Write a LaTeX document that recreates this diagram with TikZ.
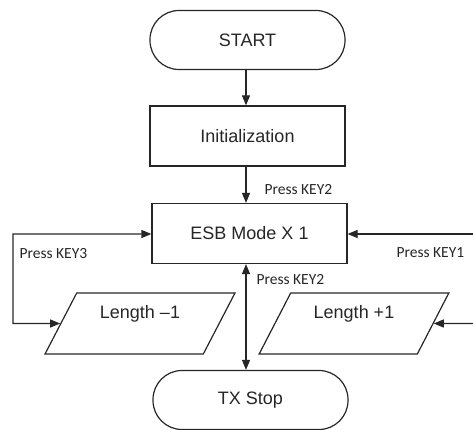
\documentclass[tikz,border=0pt]{standalone}
\usepackage{fontspec}
\setmainfont{Liberation Sans}
\newfontfamily\lblfont{Carlito}
\usetikzlibrary{arrows.meta,shapes.geometric}
\begin{document}
\begin{tikzpicture}[x=1pt,y=-1pt,
  line width=1.2pt, draw=black!85,
  every node/.style={text=black!85},
  boxtxt/.style={font=\fontsize{18}{20}\selectfont},
  term/.style={draw, rectangle, rounded corners=29pt, minimum width=195pt, minimum height=59pt, inner sep=0pt, boxtxt},
  proc/.style={draw, rectangle, minimum width=195pt, minimum height=60pt, inner sep=0pt, boxtxt},
  para/.style={draw, trapezium, trapezium left angle=61.6, trapezium right angle=118.4, trapezium stretches=true, minimum width=190pt, minimum height=61pt, inner sep=1pt, text height=13pt, text depth=23pt, boxtxt},
  lbl/.style={font=\lblfont\fontsize{15.5}{17}\selectfont, anchor=west, inner sep=0pt},
  arr/.style={-{Triangle[length=10pt,width=8pt]}},
  darr/.style={{Triangle[length=10pt,width=8pt]}-{Triangle[length=10pt,width=8pt]}}
]
\useasboundingbox (0,0) rectangle (473,430);
\node[term] (start) at (247.5,40) {START};
\node[proc] (init) at (247.5,136) {Initialization};
\node[proc] (esb) at (249.5,233.5) {ESB Mode X 1};
\node[term] (stop) at (250.5,400) {TX Stop};
\node[para] (len1) at (140,323.5) {Length –1};
\node[para] (len2) at (354,323.5) {Length +1};

\coordinate (lt) at (13,234);
\coordinate (lb) at (13,323.5);
\coordinate (rt) at (476,234);
\coordinate (rb) at (476,323.5);

\draw[arr] (start.south -| 246,0) -- (init.north -| 246,0);
\draw[arr] (init.south -| 246,0) -- (esb.north -| 246,0);
\draw[darr] (esb.south -| 246,0) -- (stop.north -| 246,0);
\draw[darr] (esb.west |- lt) -- (lt) -- (lb) -- (len1.west);
\draw[arr] (rt) -- (esb.east |- rt);
\draw[arr] (rb) -- (len2.east);

\node[lbl] (k2a) at (264,190) {Press KEY2};
\node[lbl] (k2b) at (256,280) {Press KEY2};
\node[lbl] (k3) at (19,254) {Press KEY3};
\node[lbl] (k1) at (396,253) {Press KEY1};
\end{tikzpicture}
\end{document}
